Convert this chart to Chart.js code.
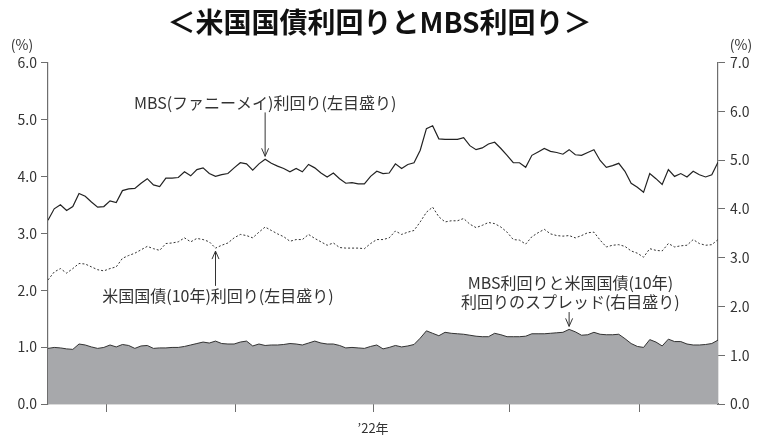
<!DOCTYPE html>
<html lang="ja">
<head>
<meta charset="utf-8">
<title>米国国債利回りとMBS利回り</title>
<script src="https://cdn.jsdelivr.net/npm/chart.js@4.4.1/dist/chart.umd.min.js"></script>
<style>
  html, body { margin: 0; padding: 0; background: #fff; }
  #wrap { width: 759px; height: 437px; position: relative; }
</style>
</head>
<body>
<div id="wrap"><canvas id="yieldChart"></canvas></div>
<script>
// 日次データ（読み取り値、%）
const mbsYield = [
  3.23, 3.43, 3.50, 3.40, 3.47, 3.70, 3.65, 3.55, 3.46, 3.47, 3.57, 3.54, 3.75, 3.78,
  3.79, 3.88, 3.96, 3.85, 3.82, 3.97, 3.97, 3.98, 4.08, 4.01, 4.12, 4.15, 4.05, 4.00,
  4.03, 4.05, 4.15, 4.24, 4.22, 4.11, 4.22, 4.30, 4.23, 4.18, 4.14, 4.08, 4.14, 4.08,
  4.21, 4.15, 4.06, 3.99, 4.06, 3.96, 3.88, 3.89, 3.87, 3.87, 4.00, 4.09, 4.05, 4.06,
  4.22, 4.14, 4.21, 4.24, 4.46, 4.84, 4.89, 4.66, 4.65, 4.65, 4.65, 4.68, 4.54, 4.47,
  4.50, 4.57, 4.60, 4.49, 4.37, 4.24, 4.24, 4.16, 4.37, 4.43, 4.49, 4.44, 4.42,
  4.39, 4.47, 4.38, 4.37, 4.42, 4.47, 4.28, 4.16, 4.19, 4.23, 4.09, 3.88, 3.81, 3.72,
  4.05, 3.96, 3.86, 4.12, 4.00, 4.05, 3.99, 4.09, 4.03, 3.99, 4.03, 4.25
];
const treasury10y = [
  2.18, 2.32, 2.38, 2.30, 2.38, 2.47, 2.46, 2.41, 2.36, 2.34, 2.38, 2.41, 2.56, 2.61,
  2.65, 2.71, 2.77, 2.73, 2.70, 2.82, 2.83, 2.85, 2.92, 2.85, 2.91, 2.89, 2.85, 2.74,
  2.79, 2.83, 2.92, 2.98, 2.96, 2.92, 3.02, 3.11, 3.05, 2.99, 2.94, 2.86, 2.89, 2.89,
  2.98, 2.91, 2.85, 2.79, 2.83, 2.75, 2.74, 2.74, 2.74, 2.73, 2.82, 2.89, 2.89, 2.92,
  3.04, 2.98, 3.02, 3.05, 3.20, 3.37, 3.46, 3.29, 3.20, 3.22, 3.22, 3.26, 3.16, 3.10,
  3.14, 3.19, 3.17, 3.11, 3.02, 2.89, 2.88, 2.81, 2.94, 3.01, 3.07, 2.99, 2.96,
  2.95, 2.96, 2.92, 2.96, 3.01, 3.02, 2.88, 2.76, 2.79, 2.80, 2.77, 2.69, 2.65, 2.58,
  2.73, 2.70, 2.69, 2.82, 2.76, 2.78, 2.79, 2.89, 2.82, 2.79, 2.80, 2.89
];
const mbsSpread = [
  1.14, 1.16, 1.15, 1.13, 1.12, 1.23, 1.21, 1.17, 1.14, 1.16, 1.21, 1.17, 1.22, 1.20,
  1.14, 1.19, 1.20, 1.14, 1.15, 1.15, 1.16, 1.16, 1.18, 1.21, 1.24, 1.27, 1.25, 1.29,
  1.24, 1.23, 1.23, 1.27, 1.29, 1.19, 1.23, 1.20, 1.21, 1.21, 1.22, 1.24, 1.23, 1.21,
  1.25, 1.29, 1.25, 1.23, 1.23, 1.20, 1.15, 1.16, 1.15, 1.14, 1.18, 1.21, 1.13, 1.16,
  1.20, 1.17, 1.19, 1.22, 1.35, 1.50, 1.45, 1.40, 1.47, 1.45, 1.44, 1.43, 1.41, 1.39,
  1.38, 1.38, 1.45, 1.42, 1.38, 1.38, 1.38, 1.39, 1.44, 1.44, 1.44, 1.45, 1.46,
  1.47, 1.53, 1.48, 1.41, 1.42, 1.47, 1.43, 1.42, 1.42, 1.43, 1.34, 1.24, 1.18, 1.16,
  1.32, 1.27, 1.19, 1.33, 1.28, 1.28, 1.23, 1.21, 1.21, 1.22, 1.24, 1.31
];
// 月の区切り（日次インデックス）と目盛りラベル
const monthTicks = [9.4, 30.2, 52.4, 74.4, 95.3];
const monthLabels = ['', '', '’22年', '', ''];
const leftTicks = [0, 1, 2, 3, 4, 5, 6];
const rightTicks = [0, 1, 2, 3, 4, 5, 6, 7];

const FONT = "'Noto Sans CJK JP', 'Noto Sans', sans-serif";
const INK = '#333';
const AXIS = '#6e6e6e';

// 注記（位置は目盛り上の値）
const notes = [
  { lines: ['MBS(ファニーメイ)利回り(左目盛り)'], axis: 'y', x: 35, y: 5.30, target: 0, index: 35, dir: 'down' },
  { lines: ['米国国債(10年)利回り(左目盛り)'], axis: 'y', x: 27.4, y: 1.90, target: 1, index: 27, dir: 'up' },
  { lines: ['MBS利回りと米国国債(10年)', '利回りのスプレッド(右目盛り)'], axis: 'y2', x: 84.2, y: 2.48, target: 2, index: 84, dir: 'down' }
];

const toXY = arr => arr.map((v, i) => ({ x: i, y: v }));

const notesPlugin = {
  id: 'notes',
  afterDraw(chart) {
    const ctx = chart.ctx;
    const xs = chart.scales.x;
    const area = chart.chartArea;
    ctx.save();
    ctx.fillStyle = INK;
    ctx.font = '14px ' + FONT;
    ctx.textAlign = 'center';
    ctx.textBaseline = 'middle';
    ctx.fillText('(%)', area.left - 26, area.top - 18);
    ctx.fillText('(%)', area.right + 23, area.top - 18);

    ctx.font = '16px ' + FONT;
    notes.forEach(n => {
      const ys = chart.scales[n.axis];
      const cx = xs.getPixelForValue(n.x);
      const cy = ys.getPixelForValue(n.y);
      n.lines.forEach((t, k) => ctx.fillText(t, cx, cy + k * 19));

      const meta = chart.getDatasetMeta(n.target);
      const pt = meta.data[n.index];
      const ax = pt.x;
      let y0, y1;
      if (n.dir === 'down') {
        y0 = cy + (n.lines.length - 1) * 19 + 10;
        y1 = pt.y - 3;
      } else {
        y0 = cy - 10;
        y1 = pt.y + 3;
      }
      const s = n.dir === 'down' ? -1 : 1;
      ctx.strokeStyle = INK;
      ctx.lineWidth = 1;
      ctx.beginPath();
      ctx.moveTo(ax, y0);
      ctx.lineTo(ax, y1);
      ctx.moveTo(ax - 3.5, y1 + s * 8);
      ctx.lineTo(ax, y1);
      ctx.lineTo(ax + 3.5, y1 + s * 8);
      ctx.stroke();
    });
    ctx.restore();
  }
};

const yAxisBase = {
  min: 0,
  border: { color: AXIS, width: 1.2 },
  grid: { drawOnChartArea: false, drawTicks: true, tickLength: 7, color: AXIS },
  ticks: { color: INK, font: { family: FONT, size: 14 }, padding: 4, callback: v => v.toFixed(1) }
};

new Chart(document.getElementById('yieldChart'), {
  type: 'line',
  data: {
    datasets: [
      {
        label: 'MBS(ファニーメイ)利回り',
        data: toXY(mbsYield),
        yAxisID: 'y',
        borderColor: '#222',
        borderWidth: 1.2,
        pointRadius: 0,
        fill: false,
        order: 1
      },
      {
        label: '米国国債(10年)利回り',
        data: toXY(treasury10y),
        yAxisID: 'y',
        borderColor: '#333',
        borderWidth: 1,
        borderDash: [2, 2],
        pointRadius: 0,
        fill: false,
        order: 2
      },
      {
        label: 'スプレッド',
        data: toXY(mbsSpread),
        yAxisID: 'y2',
        borderColor: '#333',
        borderWidth: 1,
        backgroundColor: '#a7a8ab',
        pointRadius: 0,
        fill: 'origin',
        order: 3
      }
    ]
  },
  options: {
    responsive: true,
    maintainAspectRatio: false,
    animation: false,
    layout: { padding: { left: 0, right: 0, top: 0, bottom: 0 } },
    plugins: {
      legend: { display: false },
      tooltip: { enabled: false },
      title: {
        display: true,
        text: '＜米国国債利回りとMBS利回り＞',
        color: '#111',
        font: { family: FONT, size: 28, weight: 'bold', lineHeight: 1.2 },
        padding: { top: 6, bottom: 23 }
      }
    },
    scales: {
      x: {
        type: 'linear',
        min: 0,
        max: mbsYield.length - 1,
        border: { color: AXIS, width: 1.2 },
        grid: { drawOnChartArea: false, tickLength: 8, color: AXIS },
        afterBuildTicks: axis => { axis.ticks = monthTicks.map(v => ({ value: v })); },
        afterFit: axis => { axis.height = 33; },
        ticks: {
          autoSkip: false,
          maxRotation: 0,
          color: INK,
          padding: 8,
          font: { family: FONT, size: 13 },
          callback: (v, i) => monthLabels[i]
        }
      },
      y: {
        ...yAxisBase,
        position: 'left',
        max: 6,
        afterBuildTicks: axis => { axis.ticks = leftTicks.map(v => ({ value: v })); },
        afterFit: axis => { axis.width = 48; }
      },
      y2: {
        ...yAxisBase,
        position: 'right',
        max: 7,
        ticks: { ...yAxisBase.ticks, padding: 5 },
        afterBuildTicks: axis => { axis.ticks = rightTicks.map(v => ({ value: v })); },
        afterFit: axis => { axis.width = 41; }
      }
    }
  },
  plugins: [notesPlugin]
});
</script>
</body>
</html>
